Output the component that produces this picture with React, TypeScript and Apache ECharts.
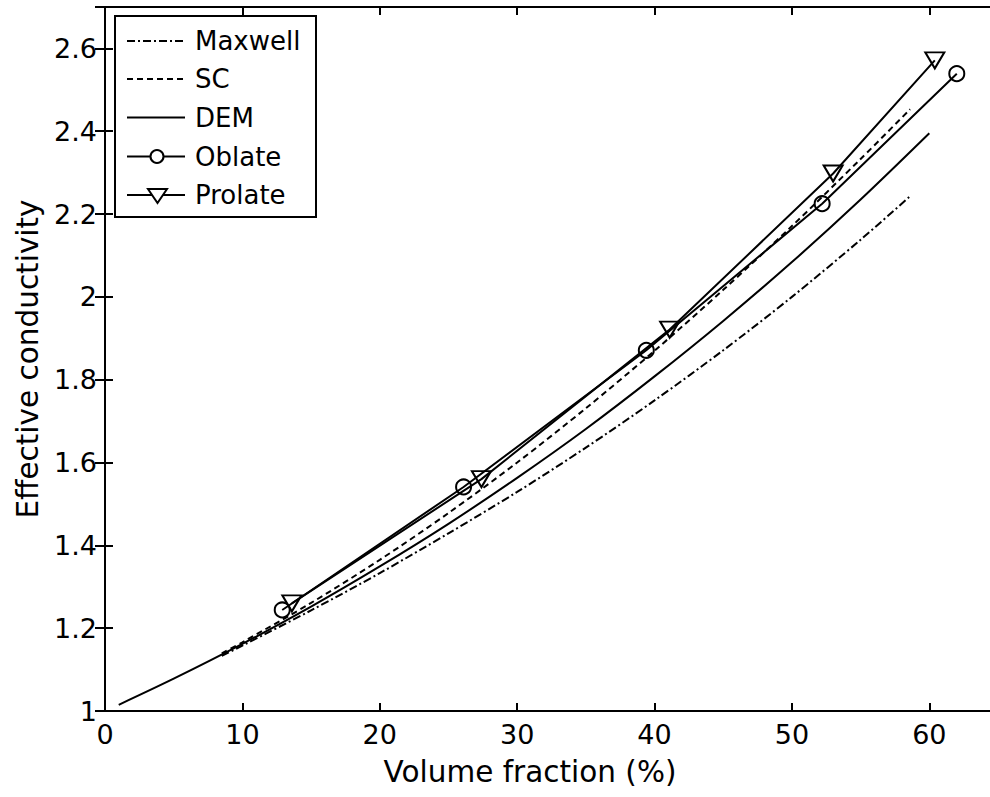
import React, { useEffect, useRef } from "react";
import * as echarts from "echarts";

// Volume fraction (%) / effective conductivity
const maxwellX = [8.5, 10, 15, 20, 25, 30, 35, 40, 45, 50, 55, 58.6];
const maxwellY = [1.133, 1.158, 1.243, 1.333, 1.429, 1.529, 1.636, 1.75, 1.871, 2.0, 2.138, 2.243];

const scX = [8.5, 10, 15, 20, 25, 30, 35, 40, 45, 50, 55, 58.6];
const scY = [1.139, 1.166, 1.261, 1.365, 1.478, 1.6, 1.731, 1.87, 2.017, 2.171, 2.333, 2.453];

const demX = [1, 5, 10, 15, 20, 25, 30, 35, 40, 45, 50, 55, 60];
const demY = [1.015, 1.078, 1.162, 1.252, 1.349, 1.452, 1.563, 1.681, 1.808, 1.942, 2.084, 2.235, 2.395];

const oblateX = [12.9, 26.1, 39.4, 52.2, 62.0];
const oblateY = [1.244, 1.541, 1.871, 2.225, 2.539];

const prolateX = [13.6, 27.4, 41.1, 53.0, 60.4];
const prolateY = [1.26, 1.56, 1.921, 2.298, 2.571];

const legendNames = ["Maxwell", "SC", "DEM", "Oblate", "Prolate"];

const xTitle = "Volume fraction (%)";
const yTitle = "Effective conductivity";

const FONT = "'DejaVu Sans', 'Liberation Sans', Arial, sans-serif";

const zip = (xs: number[], ys: number[]) => xs.map((x, i) => [x, ys[i]]);

export default function App() {
  const ref = useRef<HTMLDivElement>(null);

  useEffect(() => {
    const chart = echarts.init(ref.current!, null, { renderer: "svg" });

    const axisLine = { show: true, onZero: false, lineStyle: { color: "#000", width: 2 } };
    const axisTick = { show: true, inside: true, length: 8, lineStyle: { color: "#000", width: 2 } };
    const labelStyle = { color: "#000", fontSize: 27, fontFamily: FONT };

    const black = "#000";
    const hollow = { color: "rgba(0,0,0,0)", borderColor: black, borderWidth: 2 };

    // legend drawn as graphic
    const lx0 = 127;
    const lx1 = 185;
    const ys = [41, 79, 117.5, 156.5, 195];
    const legendEls: any[] = [
      {
        type: "rect",
        shape: { x: 115, y: 16, width: 201, height: 201 },
        style: { fill: "#fff", stroke: black, lineWidth: 2 },
        z: 100,
      },
    ];
    const dashes: any[] = [[8, 3, 2, 3], [6, 4], null, null, null];
    ys.forEach((y, i) => {
      legendEls.push({
        type: "line",
        shape: { x1: lx0, y1: y, x2: lx1, y2: y },
        style: { stroke: black, lineWidth: 2, lineDash: dashes[i] || undefined },
        z: 101,
      });
      legendEls.push({
        type: "text",
        x: 195,
        y: y,
        style: {
          text: legendNames[i],
          fill: black,
          font: `26px ${FONT}`,
          textVerticalAlign: "middle",
          verticalAlign: "middle",
        },
        z: 101,
      });
    });
    legendEls.push({
      type: "circle",
      shape: { cx: 157, cy: ys[3], r: 6.5 },
      style: { fill: "#fff", stroke: black, lineWidth: 2 },
      z: 102,
    });
    legendEls.push({
      type: "polygon",
      shape: {
        points: [
          [148, ys[4] - 6],
          [167, ys[4] - 6],
          [157.5, ys[4] + 8],
        ],
      },
      style: { fill: "#fff", stroke: black, lineWidth: 2 },
      z: 102,
    });

    const option: any = {
      animation: false,
      backgroundColor: "#fff",
      grid: { left: 105, right: 2, top: 7, bottom: 86, containLabel: false },
      xAxis: [
        {
          type: "value",
          min: 0,
          max: 65,
          interval: 10,
          position: "bottom",
          axisLine,
          axisTick,
          axisLabel: { ...labelStyle, margin: 10, showMaxLabel: false },
          splitLine: { show: false },
          name: xTitle,
          nameLocation: "middle",
          nameGap: 46,
          nameTextStyle: { color: black, fontSize: 29.5, fontFamily: FONT, padding: [0, 43, 0, 0] },
        },
        {
          type: "value",
          min: 0,
          max: 65,
          interval: 10,
          position: "top",
          axisLine,
          axisTick,
          axisLabel: { show: false },
          splitLine: { show: false },
        },
      ],
      yAxis: [
        {
          type: "value",
          min: 1,
          max: 2.7,
          interval: 0.2,
          position: "left",
          axisLine,
          axisTick,
          axisLabel: { ...labelStyle, margin: 8, showMaxLabel: false },
          splitLine: { show: false },
          name: yTitle,
          nameLocation: "middle",
          nameGap: 61,
          nameRotate: 90,
          nameTextStyle: { color: black, fontSize: 29.5, fontFamily: FONT },
        },
        {
          type: "value",
          min: 1,
          max: 2.7,
          interval: 0.2,
          position: "right",
          axisLine: { show: false },
          axisTick: { show: true, inside: true, length: 10, lineStyle: { color: "#000", width: 2 } },
          axisLabel: { show: false },
          splitLine: { show: false },
        },
      ],
      series: [
        {
          name: "Maxwell",
          type: "line",
          data: zip(maxwellX, maxwellY),
          showSymbol: false,
          smooth: 0.3,
          lineStyle: { color: black, width: 2, type: [8, 3, 2, 3] },
          itemStyle: { color: black },
        },
        {
          name: "SC",
          type: "line",
          data: zip(scX, scY),
          showSymbol: false,
          smooth: 0.3,
          lineStyle: { color: black, width: 2, type: [6, 4] },
          itemStyle: { color: black },
        },
        {
          name: "DEM",
          type: "line",
          data: zip(demX, demY),
          showSymbol: false,
          smooth: 0.3,
          lineStyle: { color: black, width: 2 },
          itemStyle: { color: black },
        },
        {
          name: "Oblate",
          type: "line",
          data: zip(oblateX, oblateY),
          symbol: "circle",
          symbolSize: 15,
          showSymbol: true,
          lineStyle: { color: black, width: 2 },
          itemStyle: hollow,
        },
        {
          name: "Prolate",
          type: "line",
          data: zip(prolateX, prolateY),
          symbol: "triangle",
          symbolSize: [19, 16],
          symbolRotate: 180,
          showSymbol: true,
          lineStyle: { color: black, width: 2 },
          itemStyle: hollow,
        },
      ],
      graphic: legendEls,
    };

    chart.setOption(option);
    return () => chart.dispose();
  }, []);

  return (
    <div
      ref={ref}
      style={{ position: "fixed", left: 0, top: 0, width: 1000, height: 797, background: "#fff" }}
    />
  );
}
